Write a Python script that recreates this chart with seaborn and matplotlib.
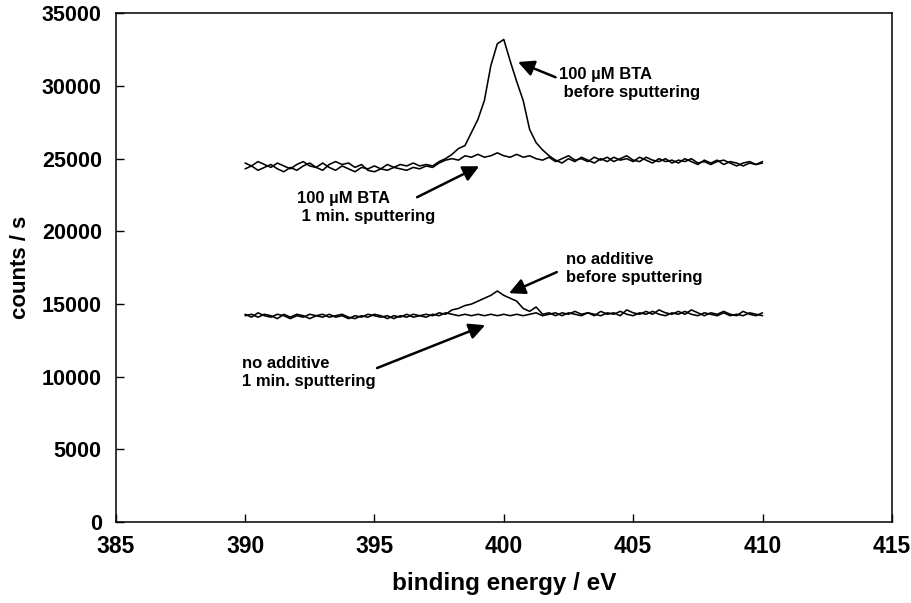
import numpy as np
import pandas as pd
import matplotlib
matplotlib.use('Agg')
import matplotlib.pyplot as plt
import seaborn as sns

# binding energy grid (eV), 0.25 eV steps from 390 to 410
energy = np.arange(390.0, 410.001, 0.25)

bta_before = [
    24700, 24500, 24800, 24600, 24400, 24700, 24500, 24300,
    24600, 24800, 24500, 24400, 24700, 24400, 24200, 24500,
    24300, 24100, 24400, 24300, 24500, 24300, 24600, 24400,
    24600, 24500, 24700, 24500, 24600, 24500, 24800, 25000,
    25300, 25700, 25900, 26800, 27700, 29000, 31400, 32900,
    33200, 31700, 30300, 29000, 27000, 26100, 25600, 25200,
    24900, 24700, 25000, 24800, 25100, 24900, 24700, 25000,
    24800, 25100, 24900, 25000, 24800, 25100, 24900, 24700,
    25000, 24800, 24900, 24700, 25000, 24800, 24600, 24900,
    24700, 24900, 24600, 24800, 24700, 24500, 24700, 24600,
    24700,
]
bta_sputter = [
    24300, 24500, 24200, 24400, 24600, 24300, 24100, 24400,
    24200, 24500, 24700, 24400, 24200, 24600, 24800, 24600,
    24700, 24400, 24600, 24200, 24100, 24300, 24200, 24400,
    24300, 24200, 24400, 24300, 24500, 24400, 24700, 24900,
    25000, 24900, 25200, 25100, 25300, 25100, 25200, 25400,
    25200, 25100, 25300, 25100, 25200, 25000, 24900, 25100,
    24800, 25000, 25200, 24900, 25000, 24800, 25100, 24900,
    25100, 24800, 25000, 25200, 24900, 24800, 25100, 24900,
    24800, 25000, 24700, 24900, 24800, 25000, 24700, 24800,
    24600, 24800, 24900, 24700, 24500, 24700, 24800, 24600,
    24800,
]
noadd_before = [
    14300, 14100, 14400, 14200, 14100, 14300, 14200, 14000,
    14200, 14100, 14300, 14200, 14100, 14300, 14100, 14200,
    14000, 14200, 14100, 14300, 14200, 14100, 14200, 14000,
    14200, 14100, 14300, 14200, 14300, 14200, 14400, 14300,
    14600, 14700, 14900, 15000, 15200, 15400, 15600, 15900,
    15600, 15400, 15200, 14700, 14500, 14800, 14300, 14400,
    14200, 14400, 14300, 14500, 14300, 14400, 14200, 14500,
    14300, 14400, 14200, 14600, 14400, 14300, 14500, 14300,
    14600, 14400, 14300, 14500, 14300, 14600, 14400, 14200,
    14400, 14300, 14500, 14300, 14200, 14500, 14300, 14200,
    14400,
]
noadd_sputter = [
    14200, 14300, 14100, 14300, 14200, 14000, 14300, 14100,
    14300, 14200, 14000, 14200, 14300, 14100, 14200, 14300,
    14100, 14000, 14200, 14100, 14300, 14200, 14000, 14200,
    14100, 14300, 14100, 14200, 14100, 14300, 14200, 14400,
    14300, 14200, 14300, 14200, 14300, 14200, 14300, 14200,
    14300, 14200, 14300, 14200, 14300, 14400, 14200, 14300,
    14400, 14200, 14400, 14300, 14200, 14400, 14300, 14200,
    14400, 14300, 14500, 14300, 14200, 14400, 14300, 14500,
    14300, 14200, 14400, 14300, 14500, 14300, 14200, 14400,
    14300, 14200, 14400, 14200, 14300, 14200, 14400, 14300,
    14200,
]

series = {
    'bta_before': bta_before,
    'bta_sputter': bta_sputter,
    'noadd_before': noadd_before,
    'noadd_sputter': noadd_sputter,
}

# annotation text, text anchor (x, y), arrow tail and arrow tip in data units
labels = ['100 µM BTA\n before sputtering', '100 µM BTA\n 1 min. sputtering',
          'no additive\nbefore sputtering', 'no additive\n1 min. sputtering']
text_xy = [(402.15, 30200), (392.0, 21650), (402.4, 17450), (389.9, 10300)]
tip_xy = [(400.55, 31650), (399.05, 24480), (400.2, 15750), (399.28, 13550)]
tail_xy = [(402.0, 30600), (396.65, 22350), (402.05, 17200), (395.1, 10600)]

sns.set_style('ticks')
plt.rcParams['font.family'] = ['Liberation Sans', 'DejaVu Sans']
plt.rcParams['font.weight'] = 'bold'
for key in ['text.color', 'axes.labelcolor', 'xtick.color', 'ytick.color', 'axes.edgecolor']:
    plt.rcParams[key] = 'black'

fig, ax = plt.subplots(figsize=(9.11, 6.03), dpi=100)
fig.subplots_adjust(left=0.127, right=0.979, bottom=0.134, top=0.978)

df = pd.DataFrame(series)
df['energy'] = energy
for name in series:
    sns.lineplot(data=df, x='energy', y=name, color='black', lw=1.15, ax=ax)

for lab, txy, tip, tail in zip(labels, text_xy, tip_xy, tail_xy):
    ax.text(txy[0], txy[1], lab, ha='left', va='center', fontsize=12,
            fontweight='bold', linespacing=1.25)
    ax.annotate('', xy=tip, xytext=tail,
                arrowprops=dict(arrowstyle='-|>', color='black', lw=1.8,
                                mutation_scale=24, shrinkA=0, shrinkB=0))

ax.set_xlim(385, 415)
ax.set_ylim(0, 35000)
ax.set_xticks(range(385, 416, 5))
ax.set_yticks(range(0, 35001, 5000))
ax.tick_params(direction='in', length=6, width=1)
ax.tick_params(axis='x', labelsize=16.5, pad=9)
ax.tick_params(axis='y', labelsize=15.5, pad=10)
for lbl in ax.get_xticklabels() + ax.get_yticklabels():
    lbl.set_fontweight('bold')
for sp in ax.spines.values():
    sp.set_visible(True)
    sp.set_linewidth(1.1)

ax.set_xlabel('binding energy / eV', fontsize=17.5, fontweight='bold', labelpad=10)
ax.set_ylabel('counts / s', fontsize=16, fontweight='bold', labelpad=8)

fig.savefig('out.png', dpi=100)
